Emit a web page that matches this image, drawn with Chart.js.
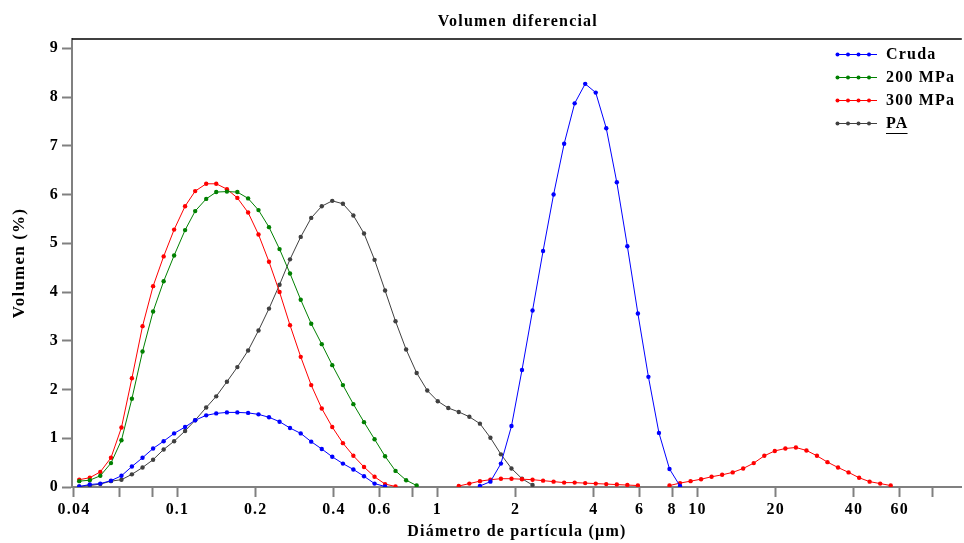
<!DOCTYPE html>
<html>
<head>
<meta charset="utf-8">
<script src="https://cdn.jsdelivr.net/npm/chart.js@4"></script>
<style>
  html, body { margin: 0; padding: 0; background: #fff; }
  #wrap { width: 964px; height: 543px; position: relative; }
</style>
</head>
<body>
<div id="wrap"><canvas id="chart"></canvas></div>
<script>
// ─── DATA ────────────────────────────────────────────────────────────────
// channel centres (µm)
const sizes = [
  0.0419, 0.0460, 0.0505, 0.0555, 0.0609, 0.0668, 0.0734, 0.0806, 0.0885, 0.0971,
  0.107, 0.117, 0.129, 0.141, 0.155, 0.170, 0.187, 0.205, 0.225, 0.247,
  0.271, 0.298, 0.327, 0.359, 0.394, 0.433, 0.475, 0.522, 0.573, 0.629,
  0.690, 0.758, 0.832, 0.914, 1.003, 1.101, 1.208, 1.327, 1.457, 1.599,
  1.755, 1.927, 2.115, 2.322, 2.549, 2.798, 3.072, 3.372, 3.702, 4.064,
  4.461, 4.898, 5.377, 5.903, 6.480, 7.114, 7.810, 8.574, 9.412, 10.33,
  11.34, 12.45, 13.67, 15.00, 16.47, 18.09, 19.85, 21.80, 23.93, 26.27,
  28.83, 31.65, 34.75, 38.15, 41.88, 45.97, 50.47, 55.41, 60.82
];

const cruda = [
  0.01, 0.05, 0.07, 0.13, 0.23, 0.42, 0.60, 0.79, 0.94, 1.10,
  1.23, 1.37, 1.47, 1.51, 1.53, 1.53, 1.52, 1.49, 1.43, 1.34,
  1.21, 1.10, 0.93, 0.78, 0.62, 0.48, 0.36, 0.22, 0.07, 0.01,
  null, null, null, null, null, null, null, null, 0.02, 0.11,
  0.48, 1.25, 2.40, 3.62, 4.84, 6.00, 7.04, 7.87, 8.27, 8.09,
  7.36, 6.25, 4.94, 3.56, 2.26, 1.11, 0.37, 0.02, null, null,
  null, null, null, null, null, null, null, null, null, null,
  null, null, null, null, null, null, null, null, null
];

const mpa200 = [
  0.12, 0.14, 0.23, 0.49, 0.96, 1.81, 2.78, 3.60, 4.22, 4.75,
  5.27, 5.66, 5.91, 6.05, 6.06, 6.05, 5.92, 5.68, 5.33, 4.88,
  4.38, 3.84, 3.35, 2.93, 2.50, 2.09, 1.70, 1.33, 0.98, 0.63,
  0.33, 0.14, 0.03, null, null, null, null, null, null, null,
  null, null, null, null, null, null, null, null, null, null,
  null, null, null, null, null, null, null, null, null, null,
  null, null, null, null, null, null, null, null, null, null,
  null, null, null, null, null, null, null, null, null
];

const mpa300 = [
  0.15, 0.19, 0.31, 0.60, 1.22, 2.23, 3.30, 4.12, 4.73, 5.28,
  5.76, 6.07, 6.22, 6.22, 6.11, 5.93, 5.63, 5.18, 4.62, 4.00,
  3.32, 2.67, 2.09, 1.61, 1.23, 0.90, 0.64, 0.41, 0.21, 0.06,
  0.01, null, null, null, null, null, 0.02, 0.07, 0.12, 0.15,
  0.17, 0.17, 0.16, 0.15, 0.13, 0.11, 0.09, 0.09, 0.08, 0.07,
  0.06, 0.05, 0.04, 0.03, null, null, 0.03, 0.08, 0.12, 0.16,
  0.21, 0.25, 0.30, 0.38, 0.49, 0.64, 0.74, 0.79, 0.81, 0.75,
  0.64, 0.51, 0.40, 0.30, 0.19, 0.11, 0.07, 0.03, null
];

const pa = [
  0.01, 0.03, 0.06, 0.12, 0.15, 0.26, 0.40, 0.56, 0.77, 0.94,
  1.15, 1.37, 1.63, 1.86, 2.16, 2.46, 2.80, 3.21, 3.66, 4.15,
  4.67, 5.13, 5.52, 5.76, 5.87, 5.81, 5.57, 5.20, 4.66, 4.03,
  3.40, 2.82, 2.34, 1.98, 1.76, 1.62, 1.54, 1.44, 1.30, 1.01,
  0.67, 0.38, 0.17, 0.04, null, null, null, null, null, null,
  null, null, null, null, null, null, null, null, null, null,
  null, null, null, null, null, null, null, null, null, null,
  null, null, null, null, null, null, null, null, null
];

const seriesNames = ['Cruda', '200 MPa', '300 MPa', 'PA'];
const seriesColors = ['#0000ff', '#008000', '#ff0000', '#404040'];

const xTicks = [0.04, 0.06, 0.08, 0.1, 0.2, 0.4, 0.6, 0.8, 1, 2, 4, 6, 8, 10, 20, 40, 60, 80];
const xTickLabels = ['0.04', '', '', '0.1', '0.2', '0.4', '0.6', '', '1', '2', '4', '6', '8', '10', '20', '40', '60', ''];
const yTicks = [0, 1, 2, 3, 4, 5, 6, 7, 8, 9];

// ─── CHART ───────────────────────────────────────────────────────────────
const FONT = "'Liberation Serif', 'Times New Roman', serif";
const SPACING = '1.2px';   // the original lettering is set wide

function toPoints(values) {
  return sizes.map((x, i) => ({ x, y: values[i] }));
}

const datasets = [cruda, mpa200, mpa300, pa].map((vals, i) => ({
  label: seriesNames[i],
  data: toPoints(vals),
  borderColor: seriesColors[i],
  backgroundColor: seriesColors[i],
  borderWidth: 1,
  pointRadius: 2.2,
  pointBorderWidth: 0,
  pointHoverRadius: 2.2,
  tension: 0,
  spanGaps: false
}));

// title, top frame line and legend inside the plot
const decor = {
  id: 'decor',
  beforeDraw(chart) {
    chart.ctx.letterSpacing = SPACING;
  },
  afterDraw(chart) {
    const { ctx, chartArea } = chart;
    ctx.save();
    ctx.strokeStyle = '#000';
    ctx.lineWidth = 1.5;
    ctx.beginPath();
    ctx.moveTo(chartArea.left, chartArea.top);
    ctx.lineTo(chartArea.right, chartArea.top);
    ctx.stroke();

    ctx.fillStyle = '#000';
    ctx.font = 'bold 16px ' + FONT;
    ctx.textAlign = 'center';
    ctx.textBaseline = 'middle';
    ctx.fillText('Volumen diferencial', (chartArea.left + chartArea.right) / 2 + 1, 22);

    ctx.textAlign = 'left';
    seriesNames.forEach((name, i) => {
      const y = 54.5 + 23 * i;
      ctx.strokeStyle = seriesColors[i];
      ctx.fillStyle = seriesColors[i];
      ctx.lineWidth = 1;
      ctx.beginPath();
      ctx.moveTo(836, y);
      ctx.lineTo(877, y);
      ctx.stroke();
      [837.5, 848, 858.5, 869].forEach(mx => {
        ctx.beginPath();
        ctx.arc(mx, y, 2, 0, Math.PI * 2);
        ctx.fill();
      });
      ctx.fillStyle = '#000';
      ctx.fillText(name, 886, y);
      if (name === 'PA') {
        const w = ctx.measureText(name).width;
        ctx.strokeStyle = '#000';
        ctx.beginPath();
        ctx.moveTo(886, y + 10);
        ctx.lineTo(885 + w, y + 10);
        ctx.stroke();
      }
    });
    ctx.restore();
    ctx.letterSpacing = '0px';
  }
};

new Chart(document.getElementById('chart'), {
  type: 'line',
  data: { datasets },
  plugins: [decor],
  options: {
    responsive: true, maintainAspectRatio: false, animation: false,
    layout: { padding: { top: 39, right: 0, bottom: 0, left: 0 } },
    plugins: {
      legend: { display: false },
      tooltip: { enabled: false },
      title: { display: false }
    },
    scales: {
      x: {
        type: 'logarithmic', min: 0.0393, max: 104,
        afterBuildTicks: s => { s.ticks = xTicks.map(v => ({ value: v })); },
        afterFit: s => { s.height = 56; },
        ticks: {
          autoSkip: false, maxRotation: 0, color: '#000', padding: 3,
          font: { family: FONT, size: 16, weight: 'bold' },
          callback: v => { const i = xTicks.indexOf(v); return i >= 0 ? xTickLabels[i] : ''; }
        },
        grid: { drawOnChartArea: false, tickLength: 10, color: '#808080', tickWidth: 2 },
        border: { color: '#808080', width: 2 },
        title: {
          display: true, text: 'Diámetro de partícula (µm)', color: '#000',
          font: { family: FONT, size: 16, weight: 'bold', lineHeight: 1.2 },
          padding: { top: 0, bottom: 2 }
        }
      },
      y: {
        min: 0, max: 9.19,
        afterBuildTicks: s => { s.ticks = yTicks.map(v => ({ value: v })); },
        afterFit: s => { s.width = 72; },
        ticks: {
          color: '#000', padding: 3,
          font: { family: FONT, size: 16, weight: 'bold' }
        },
        grid: { drawOnChartArea: false, tickLength: 10, color: '#808080', tickWidth: 2 },
        border: { color: '#808080', width: 2 },
        title: {
          display: true, text: 'Volumen (%)', color: '#000',
          font: { family: FONT, size: 17, weight: 'bold', lineHeight: 1.2 },
          padding: { top: 9, bottom: 0 }
        }
      }
    }
  }
});
</script>
</body>
</html>
